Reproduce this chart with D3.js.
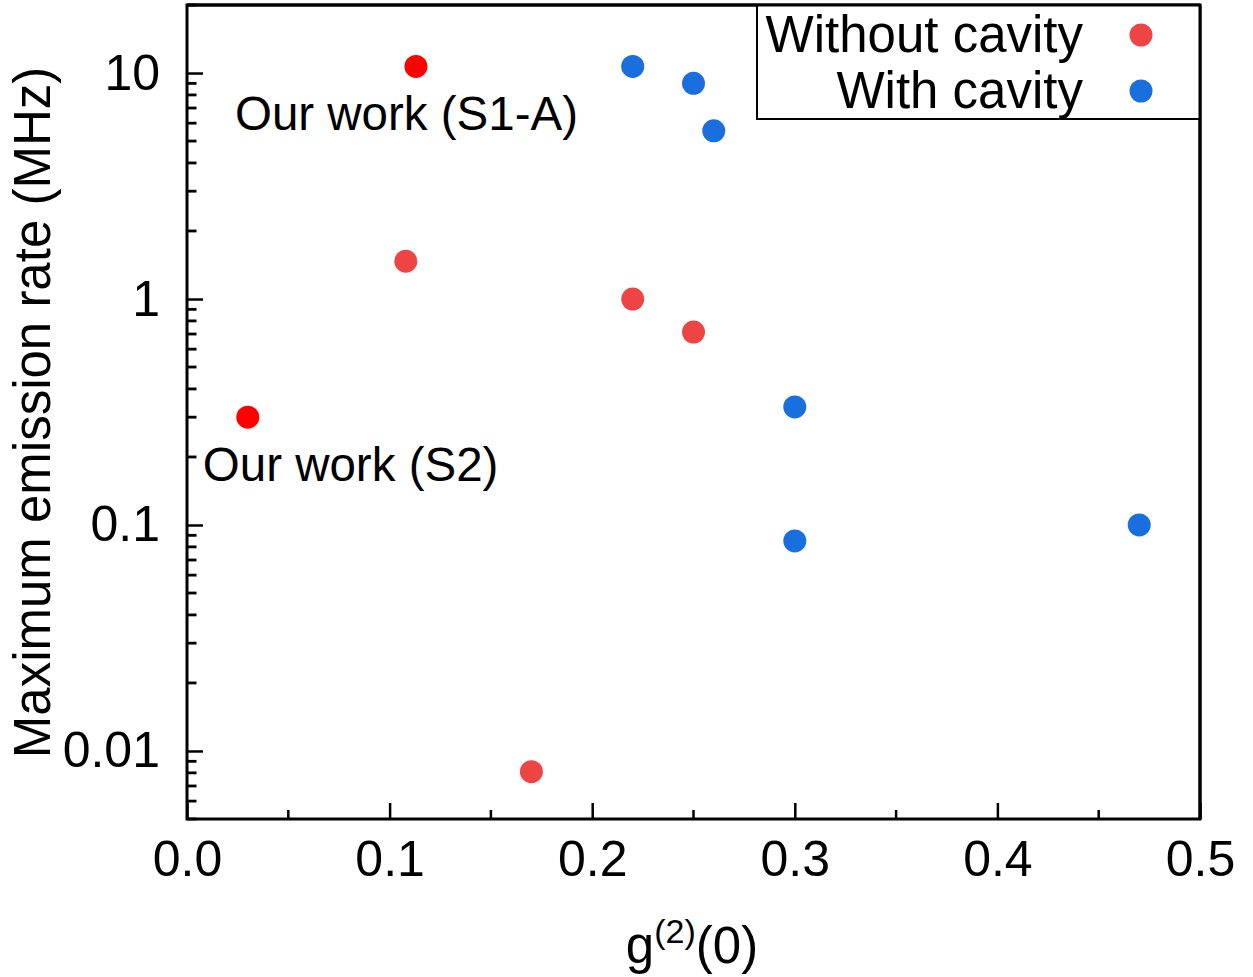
<!DOCTYPE html>
<html>
<head>
<meta charset="utf-8">
<script src="https://cdn.jsdelivr.net/npm/d3@7"></script>
<style>
  html, body { margin: 0; padding: 0; background: #fff; }
  svg { display: block; font-family: "Liberation Sans", Arial, sans-serif; }
</style>
</head>
<body>
<script>
// g(2)(0) versus maximum emission rate (MHz)
const withoutG2   = [0.113, 0.030, 0.108, 0.220, 0.250, 0.170];
const withoutRate = [10.7, 0.30, 1.47, 1.0, 0.714, 0.0081];
const withoutOurs = [true, true, false, false, false, false];

const withG2   = [0.220, 0.250, 0.260, 0.300, 0.300, 0.470];
const withRate = [10.7, 9.0, 5.55, 0.333, 0.085, 0.10];

const xTicks = [0.0, 0.1, 0.2, 0.3, 0.4, 0.5];
const xTickLabels = ["0.0", "0.1", "0.2", "0.3", "0.4", "0.5"];
const yTicks = [0.01, 0.1, 1, 10];
const yTickLabels = ["0.01", "0.1", "1", "10"];

const annotations = [
  { text: "Our work (S1-A)", g2: 0.113, rate: 10.7 },
  { text: "Our work (S2)", g2: 0.030, rate: 0.30 }
];
const legendLabels = ["Without cavity", "With cavity"];

const W = 1253, H = 977;
const m = { left: 187, right: 53, top: 5, bottom: 158 };
const iw = W - m.left - m.right, ih = H - m.top - m.bottom;

const cRed = "#ef4444", cOurs = "#ff0000", cBlue = "#1a6fdf";

const svg = d3.select("body").append("svg").attr("width", W).attr("height", H);
const g = svg.append("g").attr("transform", `translate(${m.left},${m.top})`);

const x = d3.scaleLinear().domain([0, 0.5]).range([0, iw]);
const y = d3.scaleLog().domain([0.005, 20]).range([ih, 0]);

// minor tick positions
const xMinor = [0.05, 0.15, 0.25, 0.35, 0.45];
const yMinor = y.ticks().filter(v => !yTicks.some(t => Math.abs(v / t - 1) < 1e-6));

function styleAxis(sel) {
  sel.select(".domain").remove();
  sel.selectAll(".tick line").attr("stroke", "#000").attr("stroke-width", 2.5);
  sel.selectAll(".tick text").attr("fill", "#000").attr("font-size", 50);
}

// inward minor ticks
g.append("g").selectAll("rect").data(xMinor).join("rect")
  .attr("x", d => x(d) - 1.25).attr("y", ih - 9).attr("width", 2.5).attr("height", 9)
  .attr("fill", "#000");
g.append("g").selectAll("rect").data(yMinor).join("rect")
  .attr("x", 0).attr("y", d => y(d) - 1.4).attr("width", 9.5).attr("height", 2.8)
  .attr("fill", "#000");

// major ticks and labels
g.append("g").attr("transform", `translate(0,${ih})`)
  .call(d3.axisBottom(x).tickValues(xTicks).tickSize(-16).tickPadding(21)
    .tickFormat((d, i) => xTickLabels[i]))
  .call(styleAxis);
g.append("g")
  .call(d3.axisLeft(y).tickValues(yTicks).tickSize(-16).tickPadding(27)
    .tickFormat((d, i) => yTickLabels[i]))
  .call(styleAxis);

// frame
g.append("rect").attr("x", 0).attr("y", 0).attr("width", iw).attr("height", ih)
  .attr("fill", "none").attr("stroke", "#000").attr("stroke-width", 3);

// points
const pts = g.append("g");
withoutG2.forEach((v, i) => {
  pts.append("circle").attr("cx", x(v)).attr("cy", y(withoutRate[i])).attr("r", 11.5)
    .attr("fill", withoutOurs[i] ? cOurs : cRed);
});
withG2.forEach((v, i) => {
  pts.append("circle").attr("cx", x(v)).attr("cy", y(withRate[i])).attr("r", 11.5)
    .attr("fill", cBlue);
});

// annotations
g.append("text").attr("x", x(annotations[0].g2) - 181).attr("y", y(annotations[0].rate) + 64)
  .attr("font-size", 47.5).attr("fill", "#000").text(annotations[0].text);
g.append("text").attr("x", x(annotations[1].g2) - 45).attr("y", y(annotations[1].rate) + 64)
  .attr("font-size", 47.5).attr("fill", "#000").text(annotations[1].text);

// legend
const lg = svg.append("g");
lg.append("rect").attr("x", 757).attr("y", 5).attr("width", 443).attr("height", 114)
  .attr("fill", "#fff").attr("stroke", "#000").attr("stroke-width", 2);
const legendColors = [cRed, cBlue];
legendLabels.forEach((t, i) => {
  lg.append("text").attr("x", 1083).attr("y", 52 + i * 56).attr("text-anchor", "end")
    .attr("font-size", 51).attr("fill", "#000").text(t);
  lg.append("circle").attr("cx", 1141).attr("cy", 35 + i * 56).attr("r", 11.5)
    .attr("fill", legendColors[i]);
});
// top and right frame edges over the legend box
svg.append("line").attr("x1", m.left).attr("x2", m.left + iw).attr("y1", m.top).attr("y2", m.top)
  .attr("stroke", "#000").attr("stroke-width", 3);
svg.append("line").attr("x1", m.left + iw).attr("x2", m.left + iw).attr("y1", m.top).attr("y2", m.top + ih)
  .attr("stroke", "#000").attr("stroke-width", 3);

// axis titles
const xt = svg.append("text").attr("x", 692).attr("y", 963).attr("text-anchor", "middle")
  .attr("font-size", 51).attr("fill", "#000");
xt.append("tspan").text("g");
xt.append("tspan").attr("font-size", 34).attr("dy", -20).text("(2)");
xt.append("tspan").attr("dy", 20).text("(0)");

svg.append("text")
  .attr("transform", `translate(50,${(68 + 757) / 2}) rotate(-90)`)
  .attr("text-anchor", "middle").attr("font-size", 51).attr("fill", "#000")
  .text("Maximum emission rate (MHz)");
</script>
</body>
</html>
